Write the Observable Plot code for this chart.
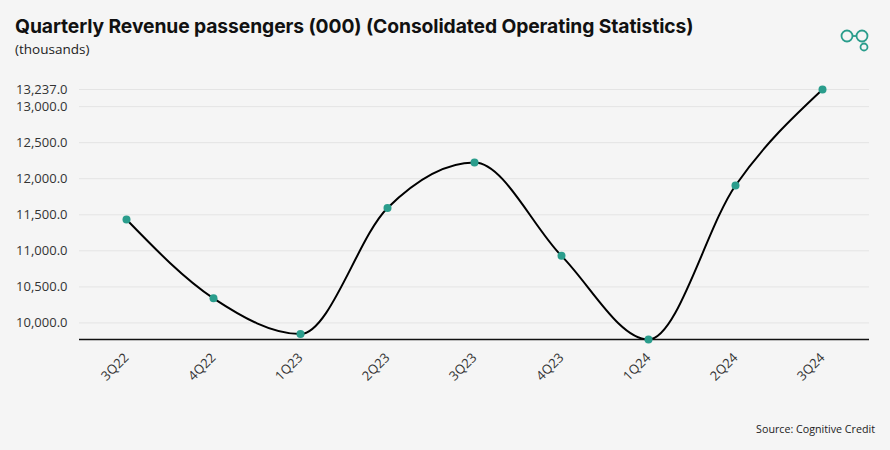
<!DOCTYPE html>
<html>
<head>
<meta charset="utf-8">
<script src="https://cdn.jsdelivr.net/npm/d3@7"></script>
<script src="https://cdn.jsdelivr.net/npm/@observablehq/plot@0.6"></script>
<style>
  html, body { margin: 0; padding: 0; background: #f5f5f5; }
  #wrap { position: relative; width: 890px; height: 450px; background: #f5f5f5; overflow: hidden; font-family: "Open Sans", sans-serif; }
  #title { position: absolute; left: 15px; top: 15px; line-height: 22px; font-family: Inter, "Open Sans", sans-serif; font-weight: 700; font-size: 19.3px; color: #111; white-space: nowrap; letter-spacing: -0.1px; }
  #subtitle { position: absolute; left: 15px; top: 41px; line-height: 16px; font-family: "Open Sans", sans-serif; font-size: 13.5px; color: #222; }
  #chart { position: absolute; left: 0; top: 60px; }
  #source { position: absolute; right: 15px; top: 422px; font-family: "Open Sans", sans-serif; font-size: 10.7px; color: #222; }
  #logo { position: absolute; left: 840px; top: 27px; }
</style>
</head>
<body>
<div id="wrap">
  <div id="title">Quarterly Revenue passengers (000) (Consolidated Operating Statistics)</div>
  <div id="subtitle">(thousands)</div>
  <svg id="logo" width="32" height="26" viewBox="0 0 32 26">
    <circle cx="7" cy="9" r="5.5" fill="none" stroke="#2a9d8c" stroke-width="1.8"/>
    <circle cx="22" cy="9" r="5.5" fill="none" stroke="#2a9d8c" stroke-width="1.8"/>
    <line x1="12.5" y1="9" x2="16.5" y2="9" stroke="#2a9d8c" stroke-width="1.8"/>
    <circle cx="24" cy="20" r="3.5" fill="none" stroke="#2a9d8c" stroke-width="1.8"/>
  </svg>
  <div id="chart"></div>
  <div id="source">Source: Cognitive Credit</div>
</div>
<script>
const quarters = ["3Q22", "4Q22", "1Q23", "2Q23", "3Q23", "4Q23", "1Q24", "2Q24", "3Q24"];
const passengers = [11434, 10341, 9846, 11594, 12225, 10930, 9770, 11906, 13237];
const yTicks = [10000, 10500, 11000, 11500, 12000, 12500, 13000, 13237];

const data = quarters.map((q, i) => ({quarter: q, value: passengers[i]}));
const yMin = d3.min(passengers);
const yMax = d3.max(passengers);

const chart = Plot.plot({
  width: 890,
  height: 340,
  marginTop: 29,
  marginBottom: 61,
  marginLeft: 79,
  marginRight: 21,
  style: { background: "transparent", fontFamily: "Open Sans, sans-serif", fontSize: "13px", color: "#333" },
  x: { type: "point", domain: quarters, padding: 0.5, label: null },
  y: { domain: [yMin, yMax], label: null },
  marks: [
    Plot.gridY(yTicks, { stroke: "#e4e4e4", strokeOpacity: 1, strokeWidth: 1 }),
    Plot.axisY(yTicks, { tickSize: 0, tickPadding: 12, tickFormat: d3.format(",.1f"), fontSize: 13, fill: "#333", label: null }),
    Plot.axisX({ tickSize: 0, tickRotate: -45, tickPadding: 16, fontSize: 13, fill: "#333", label: null }),
    Plot.ruleY([yMin], { stroke: "#111", strokeWidth: 1.3 }),
    Plot.line(data, { x: "quarter", y: "value", curve: "monotone-x", stroke: "#000", strokeWidth: 2 }),
    Plot.dot(data, { x: "quarter", y: "value", r: 4, fill: "#2a9d8c", stroke: "none" })
  ]
});
document.getElementById("chart").appendChild(chart);
</script>
</body>
</html>
